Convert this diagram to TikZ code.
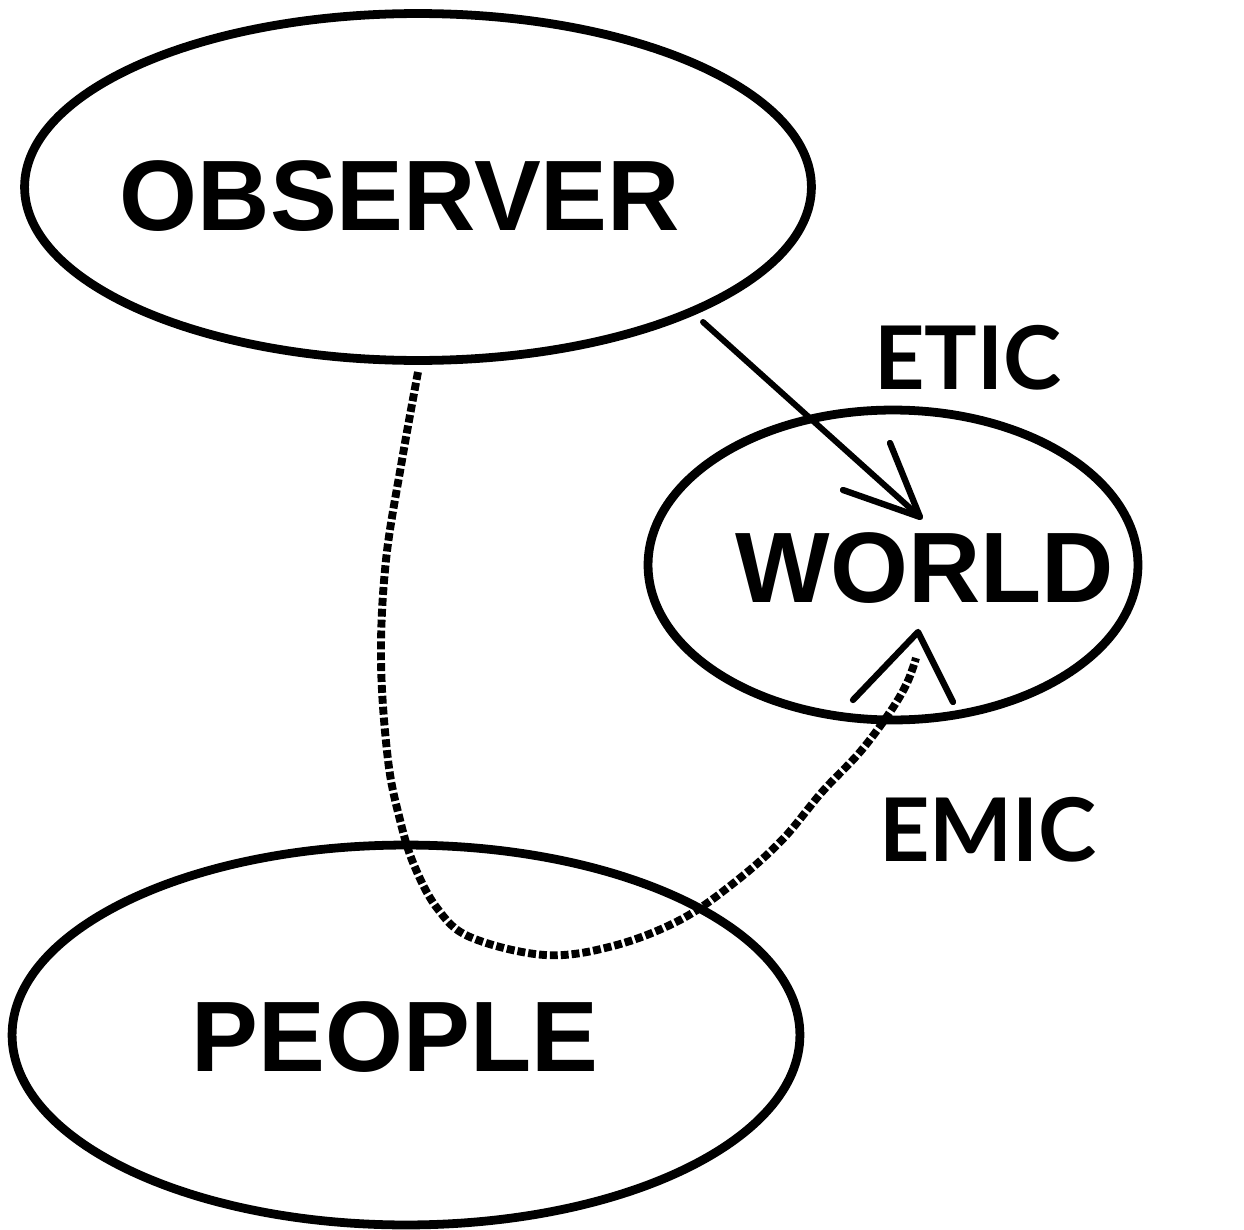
\documentclass[tikz,border=0pt]{standalone}
\usepackage{fontspec}
\setmainfont{Liberation Sans}
\newfontfamily\tagfont{Lato}
\usetikzlibrary{shapes.geometric}
\begin{document}
\begin{tikzpicture}[x=0.02cm,y=-0.02cm,
  bubble/.style={draw, ellipse, line width=5pt, inner sep=0pt, outer sep=0pt},
  bigword/.style={font=\bfseries\fontsize{57}{60}\selectfont, inner sep=0pt},
  tagword/.style={font=\tagfont\bfseries\fontsize{50}{53}\selectfont, inner sep=0pt},
  conn/.style={line width=3.4pt, line cap=round, line join=round},
  dashconn/.style={line width=4.5pt, dash pattern=on 4.5pt off 1.7pt},
  barb/.style={line width=3.6pt, line cap=round, line join=round}]
\useasboundingbox (0,0) rectangle (1244,1230);
% ellipses
\node[bubble, minimum width=15.74cm, minimum height=6.94cm] (obs) at (418,187) {};
\node[bubble, minimum width=9.8cm, minimum height=6.2cm] (world) at (893,565) {};
\node[bubble, minimum width=15.76cm, minimum height=7.6cm] (people) at (406,1035) {};
% words
\node[bigword] (obst) at (400,196) {OBSERVER};
\node[bigword] (worldt) at (925,568) {WORLD};
\node[bigword] (peoplet) at (395,1037) {PEOPLE};
\node[tagword] (etic) at (968,358) {ETIC};
\node[tagword] (emic) at (988,830) {EMIC};
% etic arrow
\coordinate (etA) at (703,322);
\coordinate (etTip) at (920,517);
\coordinate (etL) at (843,490);
\coordinate (etR) at (890,443);
\draw[conn] (etA) -- (etTip);
\draw[barb] (etL) -- (etTip) -- (etR);
% emic dashed connector
\coordinate (emA) at (418,372);
\coordinate (emB) at (916,658);
\coordinate (emTip) at (918,632);
\coordinate (emL) at (853,700);
\coordinate (emR) at (953,702);
\draw[dashconn] plot[smooth, tension=0.6] coordinates {(emA) (402,460) (386,560) (381,660) (388,760) (400,820) (414,865) (437,908) (470,937) (545,955) (613,946) (680,920) (735,882) (782,840) (822,792) (860,752) (890,712) (907,683) (emB)};
\draw[barb] (emL) -- (emTip) -- (emR);
\end{tikzpicture}
\end{document}
